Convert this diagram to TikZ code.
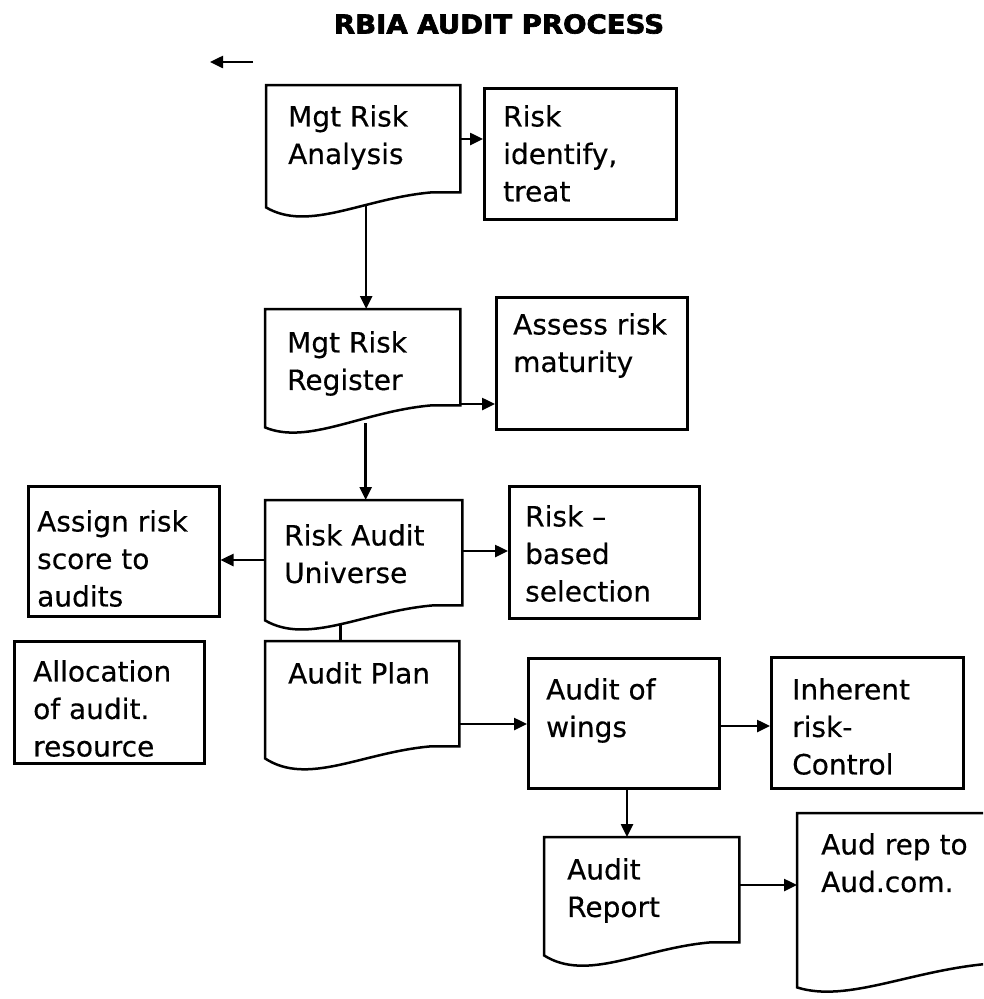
\documentclass[tikz,border=0pt]{standalone}
\usepackage{fontspec}
\setmainfont{DejaVu Sans}[FakeBold=0.4]
\newfontfamily\titlefont{DejaVu Sans Bold}[FakeBold=2.5]
\usetikzlibrary{arrows.meta,calc}
\newcommand\docout[2]{%
  \draw[ln] (#1.south east) -- (#1.north east) -- (#1.north west) -- ($(#1.south west)+(0,#2)$)
    .. controls ($(#1.south west)!0.22!(#1.south east)+(0,40)$) and ($(#1.south west)!0.5!(#1.south east)+(0,6)$) ..
    ($(#1.south west)!0.85!(#1.south east)$) -- cycle;}
\begin{document}
\begin{tikzpicture}[x=1pt,y=-1pt,
  ln/.style={line width=2.5pt,line join=miter},
  box/.style={ln,draw,rectangle,inner sep=0pt,anchor=north west},
  docrect/.style={rectangle,inner sep=0pt,anchor=north west},
  txt/.style={inner sep=0pt,anchor=north west,align=left,font=\fontsize{28}{37.5}\selectfont},
  arr/.style={ln,-{Triangle[length=13pt,width=12pt]}}]
\useasboundingbox (0,0) rectangle (983,999);
\clip (0,0) rectangle (983,999);
% title
\node[inner sep=0pt] (title) at (499,24) {\scalebox{1.06}[1]{\fontsize{26}{26}\titlefont RBIA AUDIT PROCESS}};
% stray arrow
\coordinate (s1) at (253,62);
\coordinate (s2) at (210,62);
\draw[arr] (s1) -- (s2);
% document shapes
\node[docrect,minimum width=194pt,minimum height=107pt] (A) at (266,85) {};
\docout{A}{15}
\node[docrect,minimum width=195pt,minimum height=96pt] (C) at (265,309) {};
\docout{C}{22}
\node[docrect,minimum width=197pt,minimum height=105pt] (E) at (265,500) {};
\docout{E}{15}
\node[docrect,minimum width=194pt,minimum height=105pt] (I) at (265,641) {};
\docout{I}{12}
\node[docrect,minimum width=195pt,minimum height=105pt] (L) at (544,837) {};
\docout{L}{13}
\node[docrect,minimum width=230pt,minimum height=150pt] (M) at (797,813) {};
\docout{M}{24}
% boxes
\node[box,minimum width=192pt,minimum height=131pt] (B) at (483,87) {};
\node[box,minimum width=191pt,minimum height=132pt] (D) at (495,296) {};
\node[box,minimum width=190pt,minimum height=132pt] (F) at (508,485) {};
\node[box,minimum width=191pt,minimum height=130pt] (G) at (27,485) {};
\node[box,minimum width=190pt,minimum height=122pt] (H) at (13,640) {};
\node[box,minimum width=191pt,minimum height=130pt] (J) at (527,657) {};
\node[box,minimum width=192pt,minimum height=131pt] (K) at (770,656) {};
% texts
\node[txt] (At) at (288,105) {Mgt Risk\\Analysis};
\node[txt] (Bt) at (503,105) {Risk\\identify,\\treat};
\node[txt] (Ct) at (287,331) {Mgt Risk\\Register};
\node[txt] (Dt) at (513,313) {Assess risk\\maturity};
\node[txt] (Et) at (284,524) {Risk Audit\\Universe};
\node[txt] (Ft) at (525,505) {Risk –\\based\\selection};
\node[txt] (Gt) at (37,510) {Assign risk\\score to\\audits};
\node[txt] (Ht) at (33,660) {Allocation\\of audit.\\resource};
\node[txt] (It) at (288,662) {Audit Plan};
\node[txt] (Jt) at (546,678) {Audit of\\wings};
\node[txt] (Kt) at (792,678) {Inherent\\risk-\\Control};
\node[txt] (Lt) at (567,858) {Audit\\Report};
\node[txt] (Mt) at (821,833) {Aud rep to\\Aud.com.};
% connectors
\draw[arr] ($(A.north east)+(0,54)$) coordinate (ab) -- (ab -| B.west);
\draw[arr] ($(A.south)+(3,12)$) coordinate (ac) -- (ac |- C.north);
\draw[arr] ($(C.north east)+(0,95)$) coordinate (cd) -- (cd -| D.west);
\draw[arr] ($(C.south)+(3,18)$) coordinate (ce) -- (ce |- E.north);
\draw[arr] ($(E.north west)+(0,60)$) coordinate (eg) -- (eg -| G.east);
\draw[arr] ($(E.north east)+(0,51)$) coordinate (ef) -- (ef -| F.west);
\draw[ln] ($(E.south)+(-23,20)$) coordinate (ei) -- (ei |- I.north);
\draw[arr] ($(I.north east)+(0,83)$) coordinate (ij) -- (ij -| J.west);
\draw[arr] ($(J.north east)+(0,69)$) coordinate (jk) -- (jk -| K.west);
\draw[arr] ($(J.south west)+(100,0)$) coordinate (jl) -- (jl |- L.north);
\draw[arr] ($(L.north east)+(0,48)$) coordinate (lm) -- (lm -| M.west);
\end{tikzpicture}
\end{document}
